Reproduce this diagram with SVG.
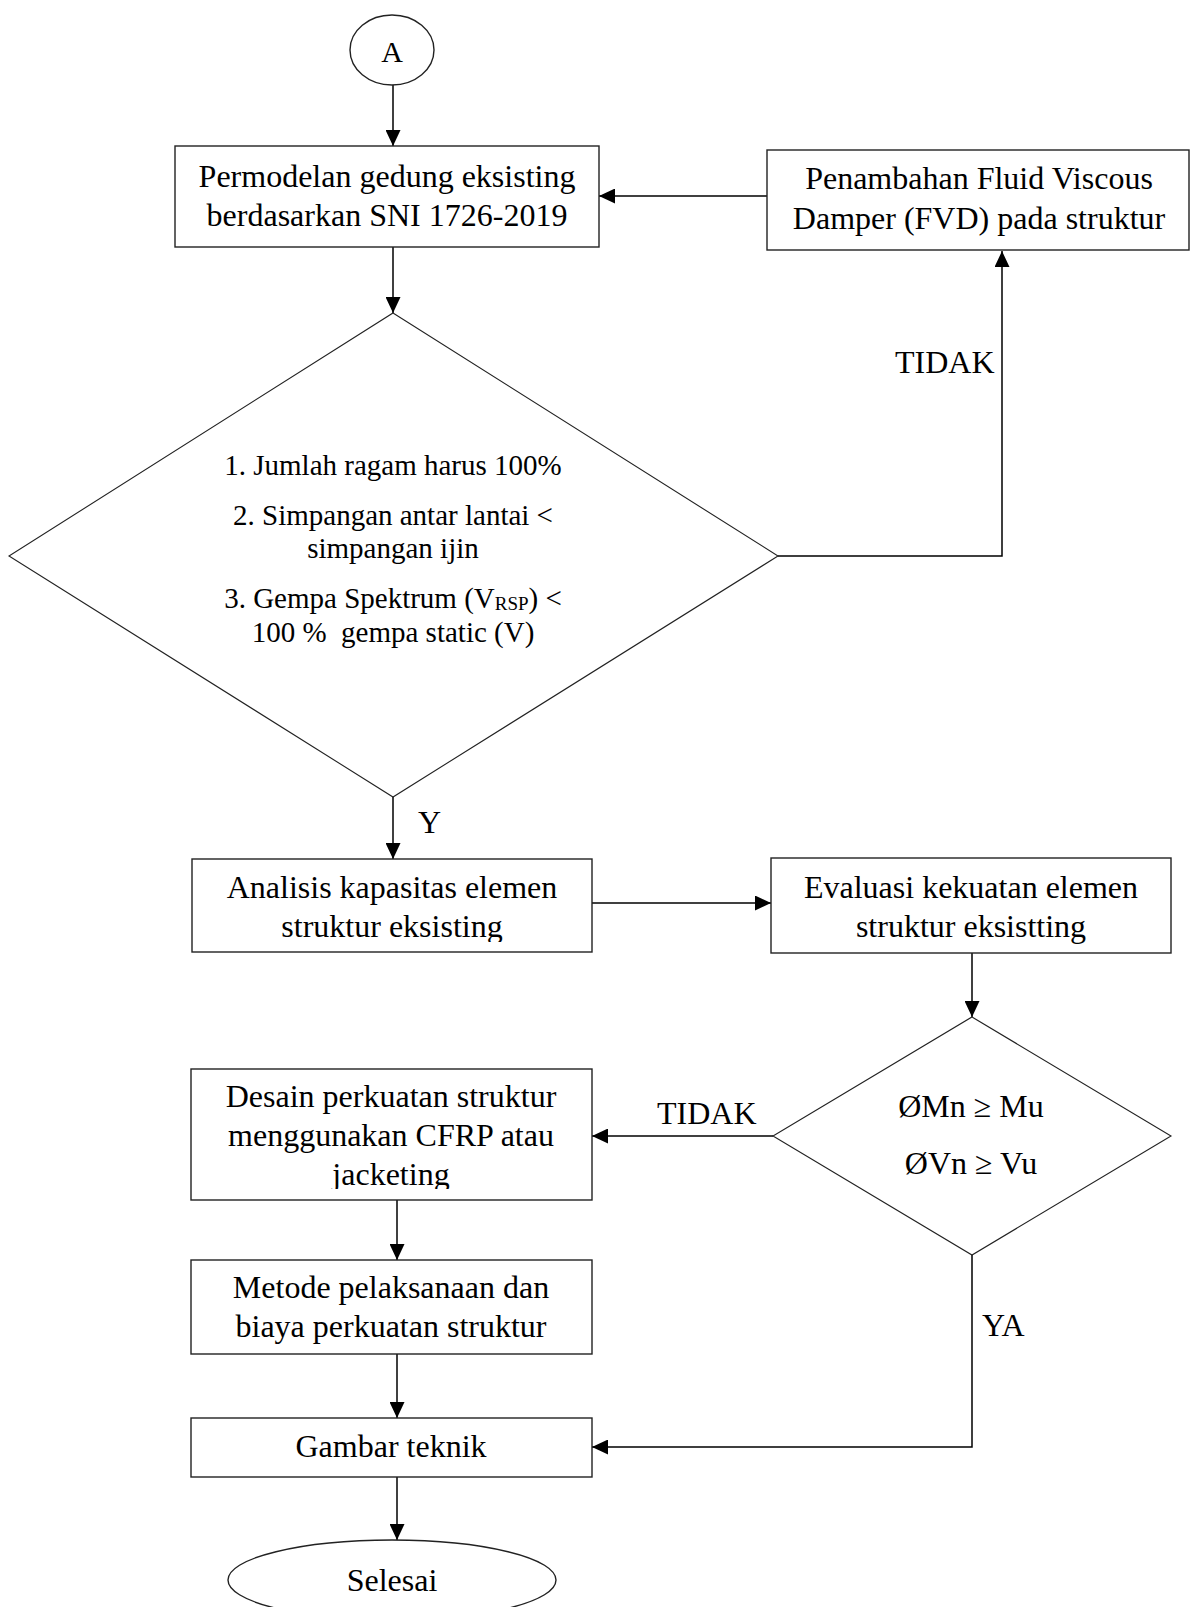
<svg xmlns="http://www.w3.org/2000/svg" width="1190" height="1607" viewBox="0 0 1190 1607">
<style>
text{font-family:"Liberation Serif","Times New Roman",serif;fill:#000;}
.t{font-size:32px;text-anchor:middle;}
.d{font-size:29px;text-anchor:middle;}
.lbl{font-size:32px;}
.box{fill:#fff;stroke:#222;stroke-width:1.4;}
.dia{fill:#fff;stroke:#222;stroke-width:1.1;}
.con{fill:none;stroke:#000;stroke-width:1.5;}
</style>
<defs>
<marker id="ah" markerUnits="userSpaceOnUse" markerWidth="16" markerHeight="15" refX="16" refY="7.5" orient="auto">
<path d="M0,0 L16,7.5 L0,15 z" fill="#000"/>
</marker>
<clipPath id="c3"><rect x="190" y="855" width="405" height="87"/></clipPath>
<clipPath id="c5"><rect x="190" y="1065" width="405" height="124"/></clipPath>
</defs>
<rect width="1190" height="1607" fill="#fff"/>

<g id="connectors">
<line class="con" x1="393" y1="85" x2="393" y2="146" marker-end="url(#ah)"/>
<line class="con" x1="767" y1="196" x2="599" y2="196" marker-end="url(#ah)"/>
<line class="con" x1="393" y1="247" x2="393" y2="313" marker-end="url(#ah)"/>
<polyline class="con" points="778,556 1002,556 1002,251" marker-end="url(#ah)"/>
<line class="con" x1="393" y1="797" x2="393" y2="859" marker-end="url(#ah)"/>
<line class="con" x1="592" y1="903" x2="771" y2="903" marker-end="url(#ah)"/>
<line class="con" x1="972" y1="953" x2="972" y2="1017" marker-end="url(#ah)"/>
<line class="con" x1="773" y1="1136" x2="592" y2="1136" marker-end="url(#ah)"/>
<line class="con" x1="397" y1="1200" x2="397" y2="1260" marker-end="url(#ah)"/>
<line class="con" x1="397" y1="1354" x2="397" y2="1418" marker-end="url(#ah)"/>
<polyline class="con" points="972,1255 972,1447 592,1447" marker-end="url(#ah)"/>
<line class="con" x1="397" y1="1477" x2="397" y2="1540" marker-end="url(#ah)"/>
<text class="lbl" x="895" y="373">TIDAK</text>
<text class="lbl" x="418" y="833">Y</text>
<text class="lbl" x="657" y="1124">TIDAK</text>
<text class="lbl" x="982" y="1336">YA</text>
</g>

<g id="start">
<ellipse cx="392" cy="50" rx="42" ry="35" class="box"/>
<text class="t" x="392" y="62" style="font-size:30px">A</text>
</g>

<g id="permodelan">
<rect class="box" x="175" y="146" width="424" height="101"/>
<text class="t" x="387" y="187">Permodelan gedung eksisting</text>
<text class="t" x="387" y="226">berdasarkan SNI 1726-2019</text>
</g>

<g id="fvd">
<rect class="box" x="767" y="150" width="422" height="100"/>
<text class="t" x="979" y="189">Penambahan Fluid Viscous</text>
<text class="t" x="979" y="229">Damper (FVD) pada struktur</text>
</g>

<g id="cek1">
<polygon class="dia" points="393,313 778,556 393,797 9,556"/>
<text class="d" x="393" y="475">1. Jumlah ragam harus 100%</text>
<text class="d" x="393" y="525">2. Simpangan antar lantai &lt;</text>
<text class="d" x="393" y="558">simpangan ijin</text>
<text class="d" x="393" y="608">3. Gempa Spektrum (V<tspan font-size="19" dy="2">RSP</tspan><tspan dy="-2">) &lt;</tspan></text>
<text class="d" x="393" y="642" xml:space="preserve">100 %  gempa static (V)</text>
</g>

<g id="analisis">
<rect class="box" x="192" y="859" width="400" height="93"/>
<g clip-path="url(#c3)">
<text class="t" x="392" y="898">Analisis kapasitas elemen</text>
<text class="t" x="392" y="937">struktur eksisting</text>
</g>
</g>

<g id="evaluasi">
<rect class="box" x="771" y="858" width="400" height="95"/>
<text class="t" x="971" y="898">Evaluasi kekuatan elemen</text>
<text class="t" x="971" y="937">struktur eksistting</text>
</g>

<g id="cek2">
<polygon class="dia" points="972,1017 1171,1136 972,1255 773,1136"/>
<text class="t" x="971" y="1117">ØMn ≥ Mu</text>
<text class="t" x="971" y="1174">ØVn ≥ Vu</text>
</g>

<g id="desain">
<rect class="box" x="191" y="1069" width="401" height="131"/>
<g clip-path="url(#c5)">
<text class="t" x="391" y="1107">Desain perkuatan struktur</text>
<text class="t" x="391" y="1146">menggunakan CFRP atau</text>
<text class="t" x="391" y="1185">jacketing</text>
</g>
</g>

<g id="metode">
<rect class="box" x="191" y="1260" width="401" height="94"/>
<text class="t" x="391" y="1298">Metode pelaksanaan dan</text>
<text class="t" x="391" y="1337">biaya perkuatan struktur</text>
</g>

<g id="gambar">
<rect class="box" x="191" y="1418" width="401" height="59"/>
<text class="t" x="391" y="1457">Gambar teknik</text>
</g>

<g id="selesai">
<ellipse class="box" cx="392" cy="1580" rx="164" ry="40"/>
<text class="t" x="392" y="1591">Selesai</text>
</g>
</svg>
